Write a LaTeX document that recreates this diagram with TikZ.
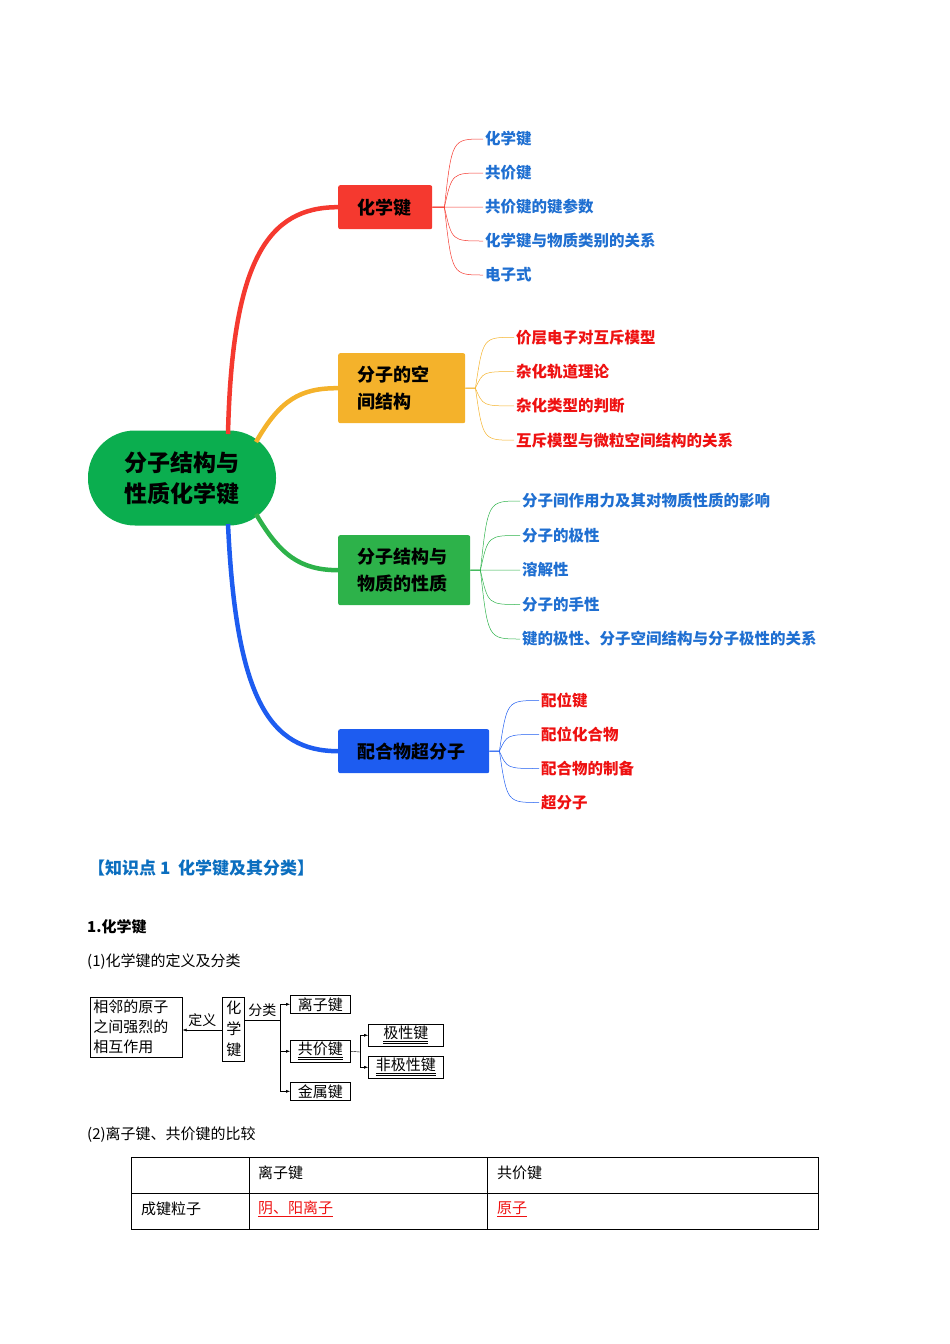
\documentclass[tikz,border=0pt]{standalone}
\usepackage{fontspec}
\setmainfont{Noto Sans CJK SC}
\usetikzlibrary{positioning,arrows.meta}
\definecolor{rootgreen}{HTML}{0BAE4F}
\definecolor{bred}{HTML}{F5392F}
\definecolor{borange}{HTML}{F4B22B}
\definecolor{bgreen}{HTML}{2DB24A}
\definecolor{bblue}{HTML}{1D5CF0}
\definecolor{leafblue}{HTML}{1F6FD1}
\definecolor{leafred}{HTML}{EE1111}
\definecolor{headblue}{HTML}{0B6EBF}
\tikzset{
  branch/.style={rounded corners=2pt, inner sep=0pt, inner xsep=19pt, font=\fontsize{18}{27}\selectfont\bfseries, align=left, anchor=north west},
  leaf/.style={anchor=west, inner sep=0pt, font=\fontsize{15.5}{18}\selectfont\bfseries},
  twig/.style={line width=0.5pt},
  limb/.style={line width=4.5pt},
  box/.style={draw, line width=0.6pt, inner sep=2pt, font=\fontsize{15}{20}\selectfont, align=left},
  body/.style={anchor=west, inner sep=0pt, font=\fontsize{15}{18}\selectfont},
}
\newcommand{\dul}[1]{\underline{\underline{#1}}}
\begin{document}
\begin{tikzpicture}[x=1pt, y=-1pt]
  \useasboundingbox (0,0) rectangle (950,1344);

  % mind map
  \node[fill=rootgreen, rounded corners=47pt, minimum width=188pt, minimum height=95pt,
        font=\fontsize{23}{31}\selectfont\bfseries, align=center] (root) at (182,478) {分子结构与\\性质化学键};

  \node[branch, fill=bred, minimum width=94pt, minimum height=44pt, text width=56pt] (b1) at (338,185) {化学键};
  \node[branch, fill=borange, minimum width=127pt, minimum height=70pt, text width=89pt] (b2) at (338,353) {分子的空\\间结构};
  \node[branch, fill=bgreen, minimum width=132pt, minimum height=70pt, text width=94pt] (b3) at (338,535) {分子结构与\\物质的性质};
  \node[branch, fill=bblue, minimum width=151pt, minimum height=44pt, text width=113pt] (b4) at (338,729) {配合物超分子};

  \draw[limb, bred] (228,434) .. controls (232,260) and (268,207) .. (b1.west);
  \draw[limb, borange] (256,442) .. controls (280,400) and (300,388) .. (b2.west);
  \draw[limb, bgreen] (256,514) .. controls (280,555) and (300,570) .. (b3.west);
  \draw[limb, bblue] (228,524) .. controls (236,700) and (270,751) .. (b4.west);

  % leaves
  \foreach \t [count=\i] in {化学键,共价键,共价键的键参数,化学键与物质类别的关系,电子式} {
    \node[leaf, text=leafblue] (l1\i) at (485,105+34*\i) {\t};
    \draw[twig, bred] (b1.east) -- ++(12,0) .. controls (452,105+34*\i) .. ([xshift=-2pt]l1\i.west);
  }
  \foreach \t [count=\i] in {价层电子对互斥模型,杂化轨道理论,杂化类型的判断,互斥模型与微粒空间结构的关系} {
    \node[leaf, text=leafred] (l2\i) at (516,303+34.3*\i) {\t};
    \draw[twig, borange] (b2.east) -- ++(10,0) .. controls (483,303+34.3*\i) .. ([xshift=-2pt]l2\i.west);
  }
  \foreach \t [count=\i] in {分子间作用力及其对物质性质的影响,分子的极性,溶解性,分子的手性,键的极性、分子空间结构与分子极性的关系} {
    \node[leaf, text=leafblue] (l3\i) at (522,466.5+34.5*\i) {\t};
    \draw[twig, bgreen] (b3.east) -- ++(10,0) .. controls (488,466.5+34.5*\i) .. ([xshift=-2pt]l3\i.west);
  }
  \foreach \t [count=\i] in {配位键,配位化合物,配合物的制备,超分子} {
    \node[leaf, text=leafred] (l4\i) at (541,666.5+34*\i) {\t};
    \draw[twig, bblue] (b4.east) -- ++(10,0) .. controls (507,666.5+34*\i) .. ([xshift=-2pt]l4\i.west);
  }

  % section text
  \node[body, font=\fontsize{17}{20}\selectfont\bfseries, text=headblue] (head) at (88,868) {【知识点 1\ \ 化学键及其分类】};
  \node[body, font=\fontsize{15}{18}\selectfont\bfseries] (sub1) at (87,927) {1.化学键};
  \node[body] (sub2) at (87,962) {(1)化学键的定义及分类};

  % classification chart
  \node[box, anchor=north west, text width=86pt, inner sep=3pt] (def) at (90,997) {相邻的原子\\之间强烈的\\相互作用};
  \node[box, anchor=north west, text width=14pt, inner sep=4pt, font=\fontsize{15}{21}\selectfont] (hxj) at (222,997) {化\\学\\键};
  \node[box, anchor=north west, minimum width=60pt] (lzj) at (290,995) {离子键};
  \node[box, anchor=north west, minimum width=60pt] (gjj) at (290,1040) {\dul{共价键}};
  \node[box, anchor=north west, minimum width=60pt] (jsj) at (290,1082) {金属键};
  \node[box, anchor=north west, minimum width=75pt] (jxj) at (368,1024) {\dul{极性键}};
  \node[box, anchor=north west, minimum width=75pt] (fjxj) at (368,1056) {\dul{非极性键}};
  \coordinate (fork) at (280,1020);
  \coordinate (fork2) at (360,1052);
  \draw[-{Latex[length=4pt]}] (hxj.west |- 0,1030) -- node[above, font=\fontsize{14}{16}\selectfont] {定义} (def.east |- 0,1030);
  \draw (hxj.east |- fork) -- node[above, font=\fontsize{14}{16}\selectfont] {分类} (fork);
  \draw (fork |- lzj.west) -- (fork |- jsj.west);
  \foreach \n in {lzj,gjj,jsj} \draw[-{Latex[length=4pt]}] (fork |- \n.west) -- (\n.west);
  \draw (gjj.east) -- (fork2);
  \draw (fork2 |- jxj.west) -- (fork2 |- fjxj.west);
  \foreach \n in {jxj,fjxj} \draw[-{Latex[length=4pt]}] (fork2 |- \n.west) -- (\n.west);

  \node[body] (sub3) at (87,1135) {(2)离子键、共价键的比较};

  % table
  \draw[line width=0.7pt] (131,1157) rectangle (818,1229);
  \draw[line width=0.7pt] (131,1193) -- (818,1193) (249,1157) -- (249,1229) (487,1157) -- (487,1229);
  \node[body] (c1) at (258,1173) {离子键};
  \node[body] (c2) at (497,1173) {共价键};
  \node[body] (c3) at (141,1209) {成键粒子};
  \node[body, text=leafred] (c4) at (258,1209) {\underline{阴、阳离子}};
  \node[body, text=leafred] (c5) at (497,1209) {\underline{原子}};
\end{tikzpicture}
\end{document}
